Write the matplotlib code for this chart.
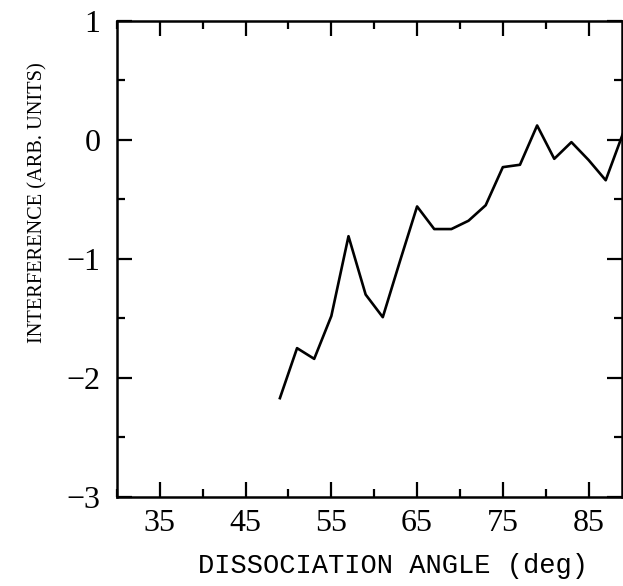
import matplotlib
matplotlib.use("Agg")
from matplotlib import pyplot as plt
from matplotlib.ticker import MultipleLocator

angle = [49, 51, 53, 55, 57, 59, 61, 63, 65, 67, 69, 71, 73, 75, 77, 79, 81, 83, 85, 87, 89]
interference = [-2.17, -1.75, -1.84, -1.48, -0.81, -1.30, -1.49, -1.02, -0.56, -0.75,
                -0.75, -0.68, -0.55, -0.23, -0.21, 0.12, -0.16, -0.02, -0.17, -0.34, 0.05]
x_ticks = [35, 45, 55, 65, 75, 85]
y_ticks = [-3, -2, -1, 0, 1]

fig = plt.figure(figsize=(6.23, 5.86), dpi=100)
ax = fig.add_axes([0.1878, 0.1519, 0.8106, 0.8128])

ax.plot(angle, interference, color='black', lw=1.9)

ax.set_xlim(30, 88.9)
ax.set_ylim(-3, 1)
ax.set_xticks(x_ticks)
ax.set_yticks(y_ticks)
ax.xaxis.set_minor_locator(MultipleLocator(5))
ax.yaxis.set_minor_locator(MultipleLocator(0.5))

for s in ax.spines.values():
    s.set_linewidth(1.8)
ax.tick_params(which='both', direction='in', top=True, right=True, width=1.6)
ax.tick_params(which='major', length=11)
ax.tick_params(which='minor', length=6)
ax.tick_params(axis='x', which='major', pad=9)
ax.tick_params(axis='y', which='major', pad=12)

for lab in ax.get_xticklabels() + ax.get_yticklabels():
    lab.set_family('Liberation Serif')
    lab.set_fontsize(23)

fig.text(0.061, 0.6536, "INTERFERENCE (ARB. UNITS)", rotation=90, ha='center', va='center',
         family='Liberation Serif', fontsize=14.7)
fig.text(0.631, 0.034, "DISSOCIATION ANGLE (deg)", ha='center', va='center',
         family='Liberation Mono', fontsize=19.5)

fig.savefig('out.png', dpi=100)
